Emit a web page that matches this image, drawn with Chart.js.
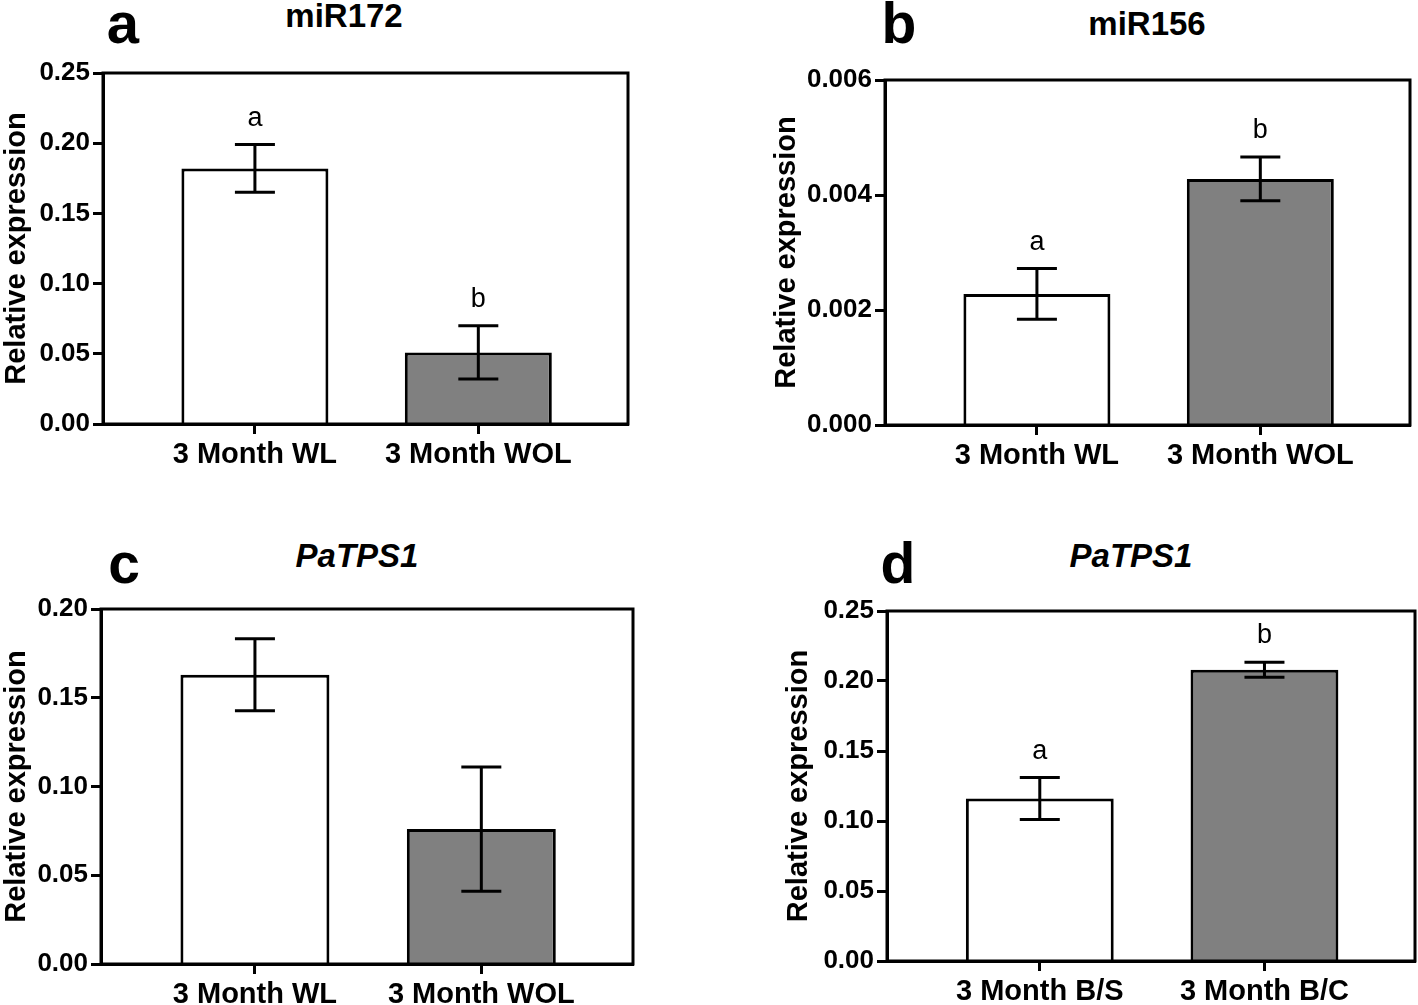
<!DOCTYPE html>
<html lang="en">
<head>
<meta charset="UTF-8">
<title>Relative expression</title>
<script src="https://cdn.jsdelivr.net/npm/chart.js"></script>
<style>
  body { margin: 0; width: 1418px; height: 1005px; overflow: hidden; background: #fff; position: relative;
         font-family: "Liberation Sans", Arial, sans-serif; }
  canvas { position: absolute; }
  .lbl { position: absolute; line-height: 1; font-weight: bold; white-space: nowrap; color: #000; transform: translateX(-50%); }
</style>
</head>
<body>
<script>
  // categories
  const catsWL = ['3 Month WL', '3 Month WOL'];
  const catsBC = ['3 Month B/S', '3 Month B/C'];

  // panel a - miR172
  const mir172 = [0.182, 0.051];
  const mir172Err = [0.017, 0.019];
  const mir172Sig = ['a', 'b'];

  // panel b - miR156
  const mir156 = [0.00228, 0.00428];
  const mir156Err = [0.00044, 0.00038];
  const mir156Sig = ['a', 'b'];

  // panel c - PaTPS1 (WL / WOL)
  const tps1WL = [0.163, 0.076];
  const tps1WLErr = [0.0203, 0.035];

  // panel d - PaTPS1 (B/S / B/C)
  const tps1BC = [0.116, 0.208];
  const tps1BCErr = [0.015, 0.0054];
  const tps1BCSig = ['a', 'b'];

  // y axis ticks
  const ticks025 = [0, 0.05, 0.10, 0.15, 0.20, 0.25];
  const ticks020 = [0, 0.05, 0.10, 0.15, 0.20];
  const ticks006 = [0, 0.002, 0.004, 0.006];

  const barColors = ['#ffffff', '#808080'];
  const FONT = '"Liberation Sans", Arial, sans-serif';

  // error bars + significance letters
  const errorBars = {
    id: 'errorBars',
    afterDatasetsDraw(chart) {
      const ds = chart.data.datasets[0];
      const meta = chart.getDatasetMeta(0);
      const y = chart.scales.y;
      const ctx = chart.ctx;
      ctx.save();
      ctx.strokeStyle = '#000';
      ctx.lineWidth = 3;
      meta.data.forEach((bar, i) => {
        const v = ds.data[i].y, e = ds.errors[i];
        const top = y.getPixelForValue(v + e);
        const bot = y.getPixelForValue(v - e);
        const x = bar.x, half = 20;
        ctx.beginPath();
        ctx.moveTo(x, top); ctx.lineTo(x, bot);
        ctx.moveTo(x - half, top); ctx.lineTo(x + half, top);
        ctx.moveTo(x - half, bot); ctx.lineTo(x + half, bot);
        ctx.stroke();
        if (ds.sig) {
          ctx.fillStyle = '#000';
          ctx.font = '27px ' + FONT;
          ctx.textAlign = 'center';
          ctx.textBaseline = 'alphabetic';
          ctx.fillText(ds.sig[i], x, top - 19);
        }
      });
      ctx.restore();
    }
  };

  // closed box round the plot
  const frame = {
    id: 'frame',
    afterDraw(chart) {
      const a = chart.chartArea, ctx = chart.ctx;
      ctx.save();
      ctx.strokeStyle = '#000';
      ctx.lineWidth = 3;
      ctx.strokeRect(a.left, a.top, a.right - a.left, a.bottom - a.top);
      ctx.restore();
    }
  };

  function addText(txt, cx, baseline, size, italic) {
    const d = document.createElement('div');
    d.className = 'lbl';
    d.textContent = txt;
    d.style.fontSize = size + 'px';
    if (italic) d.style.fontStyle = 'italic';
    d.style.left = cx + 'px';
    d.style.top = (baseline - 0.8465 * size) + 'px';
    document.body.appendChild(d);
  }

  function makePanel(p) {
    const cv = document.createElement('canvas');
    cv.width = p.w; cv.height = p.h;
    cv.style.left = p.cx + 'px'; cv.style.top = p.cy + 'px';
    document.body.appendChild(cv);
    const [L, T, R, B] = p.box;
    new Chart(cv, {
      type: 'bar',
      data: {
        datasets: [{
          data: p.values.map((v, i) => ({ x: i + 1, y: v })),
          errors: p.errors,
          sig: p.sig,
          backgroundColor: barColors,
          borderColor: '#000',
          borderWidth: 3,
          barPercentage: 0.658,
          categoryPercentage: 1
        }]
      },
      options: {
        responsive: false,
        animation: false,
        layout: { padding: { left: 0, top: T - p.cy, right: p.cx + p.w - R, bottom: 0 } },
        plugins: { legend: { display: false }, tooltip: { enabled: false } },
        scales: {
          x: {
            type: 'linear', min: 0.32, max: 2.67, offset: false, bounds: 'data',
            afterBuildTicks: s => { s.ticks = p.cats.map((_, i) => ({ value: i + 1 })); },
            afterFit: s => { s.height = p.cy + p.h - B; },
            ticks: { callback: v => p.cats[v - 1], color: '#000', maxRotation: 0, autoSkip: false, padding: 4,
                     font: { family: FONT, size: 29, weight: 'bold' } },
            grid: { drawOnChartArea: false, offset: false, tickLength: 10, tickWidth: 3, tickColor: '#000' },
            border: { color: '#000', width: 3 }
          },
          y: {
            min: 0, max: p.yTicks[p.yTicks.length - 1],
            afterBuildTicks: s => { s.ticks = p.yTicks.map(v => ({ value: v })); },
            afterFit: s => { s.width = L - p.cx; },
            ticks: { callback: v => v.toFixed(p.dec), color: '#000', padding: 3,
                     font: { family: FONT, size: 26, weight: 'bold' } },
            grid: { drawOnChartArea: false, tickLength: 10, tickWidth: 3, tickColor: '#000' },
            border: { color: '#000', width: 3 },
            title: { display: true, text: 'Relative expression', color: '#000', padding: 0,
                     font: { family: FONT, size: 29, weight: 'bold' } }
          }
        }
      },
      plugins: [errorBars, frame]
    });
  }

  makePanel({ cx: 0,   cy: 45,  w: 709, h: 450, box: [103, 73, 628, 424], cats: catsWL,
              values: mir172, errors: mir172Err, sig: mir172Sig, yTicks: ticks025, dec: 2 });
  makePanel({ cx: 770, cy: 45,  w: 648, h: 450, box: [885, 80, 1410, 425], cats: catsWL,
              values: mir156, errors: mir156Err, sig: mir156Sig, yTicks: ticks006, dec: 3 });
  makePanel({ cx: 0,   cy: 580, w: 709, h: 425, box: [101, 609, 633, 964], cats: catsWL,
              values: tps1WL, errors: tps1WLErr, sig: null, yTicks: ticks020, dec: 2 });
  makePanel({ cx: 782, cy: 580, w: 636, h: 425, box: [887, 611, 1415, 961], cats: catsBC,
              values: tps1BC, errors: tps1BCErr, sig: tps1BCSig, yTicks: ticks025, dec: 2 });

  // panel letters
  addText('a', 123, 43, 58);
  addText('b', 899, 43, 57);
  addText('c', 124, 583, 57);
  addText('d', 898, 583, 57);

  // panel titles
  addText('miR172', 344, 27, 33);
  addText('miR156', 1147, 35, 33);
  addText('PaTPS1', 357, 567, 33, true);
  addText('PaTPS1', 1131, 567, 33, true);
</script>
</body>
</html>
